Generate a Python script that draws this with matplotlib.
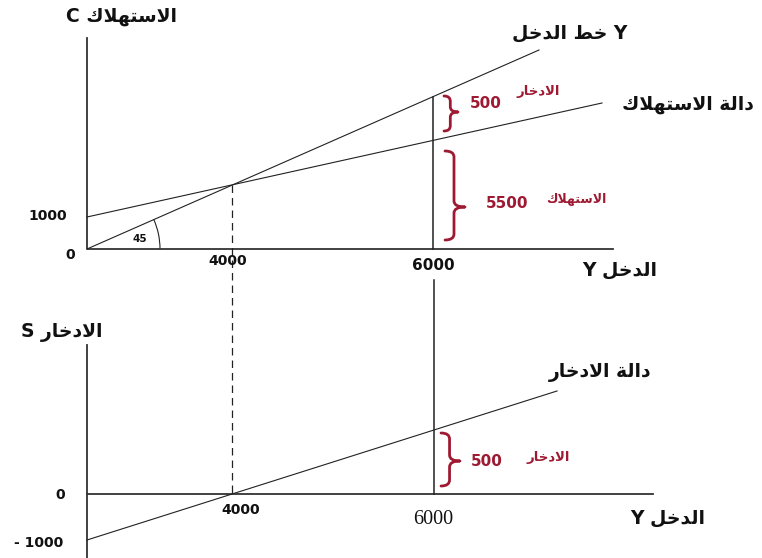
import matplotlib
matplotlib.use("Agg")
import matplotlib.pyplot as plt
from matplotlib.path import Path
from matplotlib.patches import PathPatch, Arc

# ===== schematic diagram, drawn in the pixel frame of the original (y downward) =====
W, H = 762, 558

# top panel: Y = C line, consumption function
top_axis_x = [87, 87, 613]
top_axis_y = [38, 249, 249]
income_line_x = [87, 539]
income_line_y = [249, 50]
cons_line_x = [87, 602]
cons_line_y = [217, 103]
y6000_top_x = [433, 433]
y6000_top_y = [97, 249]

# bottom panel: savings function
bot_axis_x = [87, 87, 653]
bot_axis_y = [345, 494, 494]
bot_yaxis_low = [494, 558]
save_line_x = [87, 557]
save_line_y = [540, 391]
y6000_bot_x = [434, 434]
y6000_bot_y = [280, 494]

# dashed break-even line at Y = 4000
dash_x = [232, 232]
dash_y = [185, 494]

# braces: (x, top, bottom, tip, width)
braces = [(444, 96, 131, 112, 14),
          (445, 151, 240, 207, 20),
          (441, 433, 486, 461, 19)]

# angle mark at the origin
arc_r = 73
arc_deg = 24

RED = "#9e1a32"


def ar(text):
    # minimal Arabic shaping (presentation forms) + visual reversal
    forms = {
        "ا": (0xFE8D, 0xFE8E, None, None),
        "ت": (0xFE95, 0xFE96, 0xFE97, 0xFE98),
        "خ": (0xFEA5, 0xFEA6, 0xFEA7, 0xFEA8),
        "د": (0xFEA9, 0xFEAA, None, None),
        "ر": (0xFEAD, 0xFEAE, None, None),
        "س": (0xFEB1, 0xFEB2, 0xFEB3, 0xFEB4),
        "ط": (0xFEC1, 0xFEC2, 0xFEC3, 0xFEC4),
        "ك": (0xFED9, 0xFEDA, 0xFEDB, 0xFEDC),
        "ل": (0xFEDD, 0xFEDE, 0xFEDF, 0xFEE0),
        "ه": (0xFEE9, 0xFEEA, 0xFEEB, 0xFEEC),
        "ة": (0xFE93, 0xFE94, None, None),
        "LA": (0xFEFB, 0xFEFC, None, None),
    }
    dual = set("تخسطكله")
    toks = []
    i = 0
    while i < len(text):
        if text[i] == "ل" and i + 1 < len(text) and text[i + 1] == "ا":
            toks.append("LA")
            i += 2
        else:
            toks.append(text[i])
            i += 1
    out = []
    for k, t in enumerate(toks):
        if t not in forms:
            out.append(t)
            continue
        prev_j = k > 0 and toks[k - 1] in dual
        next_j = t in dual and k + 1 < len(toks) and toks[k + 1] in forms
        if prev_j and next_j:
            idx = 3
        elif prev_j:
            idx = 1
        elif next_j:
            idx = 2
        else:
            idx = 0
        out.append(chr(forms[t][idx]))
    return "".join(out[::-1])


def brace(ax, x, y0, y1, tip, w, color):
    m = x + w * 0.45
    q = min(6, (y1 - y0) * 0.15)
    verts = [(x, y0), (m, y0), (m, y0 + q),
             (m, tip - q),
             (m, tip), (x + w, tip),
             (m, tip), (m, tip + q),
             (m, y1 - q),
             (m, y1), (x, y1)]
    codes = [Path.MOVETO, Path.CURVE3, Path.CURVE3,
             Path.LINETO,
             Path.CURVE3, Path.CURVE3,
             Path.CURVE3, Path.CURVE3,
             Path.LINETO,
             Path.CURVE3, Path.CURVE3]
    ax.add_patch(PathPatch(Path(verts, codes), fill=False, edgecolor=color,
                           lw=2.0, capstyle="round", joinstyle="round"))


fig = plt.figure(figsize=(W / 100, H / 100), dpi=100)
ax = fig.add_axes([0, 0, 1, 1])
ax.set_xlim(0, W)
ax.set_ylim(H, 0)
ax.axis("off")

# axes
ax.plot(top_axis_x, top_axis_y, color="#333333", lw=1.3)
ax.plot(bot_axis_x, bot_axis_y, color="#333333", lw=1.3)
ax.plot([87, 87], bot_yaxis_low, color="#333333", lw=1.3)

# lines
ax.plot(income_line_x, income_line_y, color="#222222", lw=0.8)
ax.plot(cons_line_x, cons_line_y, color="#222222", lw=0.8)
ax.plot(save_line_x, save_line_y, color="#222222", lw=0.8)
ax.plot(y6000_top_x, y6000_top_y, color="#222222", lw=1.1)
ax.plot(y6000_bot_x, y6000_bot_y, color="#222222", lw=1.1)
ax.plot(dash_x, dash_y, color="#222222", lw=0.9, linestyle=(0, (6, 4)))

# 45 degree mark (y axis is inverted, so the arc sweeps through 336..360)
ax.add_patch(Arc((87, 249), 2 * arc_r, 2 * arc_r, theta1=360 - arc_deg,
                 theta2=360, color="#222222", lw=0.8))

for b in braces:
    brace(ax, *b, RED)

fam = ["DejaVu Sans"]
black = dict(family=fam, weight="bold", color="#111111", ha="center", va="center")
red = dict(family=fam, weight="bold", color=RED, ha="center", va="center")

# top panel text
ax.text(122, 17, ar("الاستهلاك C"), fontsize=13.5, **black)
ax.text(570, 33, ar("Y خط الدخل"), fontsize=13.5, **black)
ax.text(688, 104, ar("دالة الاستهلاك"), fontsize=13.5, **black)
ax.text(48, 216, "1000", fontsize=10, **black)
ax.text(70, 255, "0", fontsize=10, **black)
ax.text(140, 239, "45", fontsize=7.5, **black)
ax.text(228, 261, "4000", fontsize=10, **black)
ax.text(433, 266, "6000", fontsize=11, **black)
ax.text(620, 270, ar("الدخل Y"), fontsize=13.5, **black)

ax.text(538, 91, ar("الادخار"), fontsize=9.5, **red)
ax.text(486, 104, "500", fontsize=11, **red)
ax.text(507, 203, "5500", fontsize=11, **red)
ax.text(576, 200, ar("الاستهلاك"), fontsize=9, **red)

# bottom panel text
ax.text(62, 332, ar("الادخار S"), fontsize=13.5, **black)
ax.text(600, 372, ar("دالة الادخار"), fontsize=13.5, **black)
ax.text(60, 495, "0", fontsize=10, **black)
ax.text(39, 543, "- 1000", fontsize=10, **black)
ax.text(241, 510, "4000", fontsize=10, **black)
ax.text(433, 520, "6000", fontsize=14.5, family="Liberation Serif",
        color="#111111", ha="center", va="center")
ax.text(668, 518, ar("الدخل Y"), fontsize=13.5, **black)

ax.text(487, 461, "500", fontsize=11, **red)
ax.text(548, 458, ar("الادخار"), fontsize=9.5, **red)

fig.savefig("out.png", dpi=100)
